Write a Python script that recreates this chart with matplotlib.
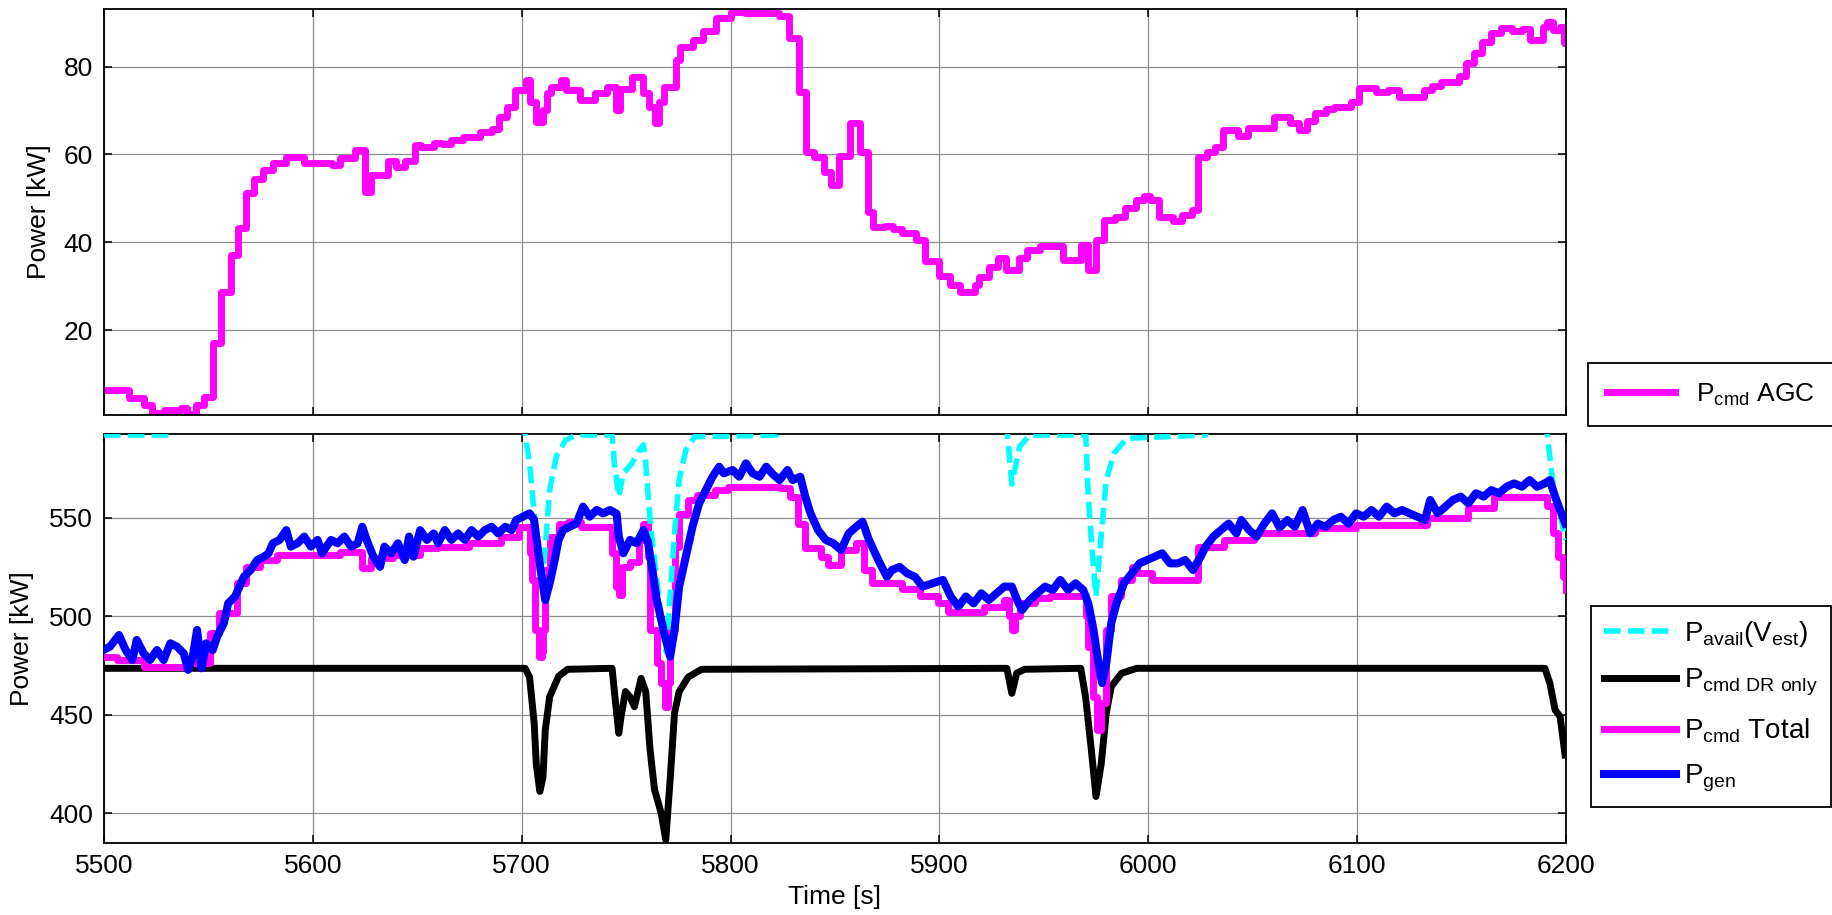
import numpy as np
import matplotlib
matplotlib.use('Agg')
import matplotlib.pyplot as plt

plt.rcParams['font.family'] = ['Liberation Sans', 'DejaVu Sans']
plt.rcParams['mathtext.default'] = 'regular'

# AGC power command (kW), piecewise constant
agc_t = [5500, 5512, 5519, 5523, 5529, 5537, 5540, 5544, 5548, 5552, 5556, 5561, 5564, 5568,
         5572, 5576, 5581, 5587, 5596, 5609, 5613, 5620, 5625, 5628, 5636, 5640, 5644, 5649,
         5652, 5658, 5662, 5666, 5672, 5680, 5686, 5689, 5693, 5697, 5702, 5704, 5707, 5710,
         5712, 5714, 5719, 5721, 5728, 5735, 5741, 5745, 5747, 5753, 5758, 5761, 5764, 5766,
         5768, 5774, 5776, 5782, 5787, 5793, 5800, 5807, 5823, 5828, 5833, 5836, 5840, 5845,
         5848, 5852, 5857, 5862, 5866, 5868, 5874, 5878, 5882, 5889, 5893, 5900, 5905, 5910,
         5917, 5919, 5924, 5928, 5932, 5938, 5942, 5948, 5959, 5968, 5971, 5975, 5979, 5984,
         5989, 5994, 5998, 6001, 6005, 6012, 6016, 6021, 6024, 6028, 6032, 6036, 6043, 6048,
         6060, 6068, 6072, 6076, 6080, 6085, 6089, 6097, 6101, 6109, 6115, 6120, 6132, 6136,
         6140, 6149, 6152, 6156, 6160, 6164, 6169, 6174, 6179, 6183, 6189, 6191, 6194, 6197,
         6199, 6200]
agc_p = [6.4, 4.5, 3.0, 1.1, 1.8, 2.2, 0.8, 3.0, 4.8, 17.0, 28.7, 37.0, 43.3, 51.2,
         54.4, 56.5, 58.0, 59.4, 58.0, 57.6, 59.2, 61.0, 51.5, 55.3, 58.6, 57.2, 58.4, 62.2,
         61.6, 62.5, 62.3, 63.3, 64.0, 65.1, 65.8, 68.5, 70.8, 74.7, 77.0, 72.0, 67.4, 70.0,
         74.0, 75.4, 76.9, 74.7, 72.4, 74.0, 75.4, 70.1, 75.0, 77.7, 74.0, 70.8, 67.1, 72.0,
         75.4, 81.5, 84.5, 86.1, 88.0, 91.0, 92.5, 92.2, 91.6, 86.5, 74.3, 60.6, 59.5, 56.0,
         53.0, 59.7, 67.2, 60.6, 46.9, 43.5, 43.7, 43.0, 42.1, 40.5, 35.7, 32.3, 30.3, 28.6,
         30.3, 32.1, 34.4, 36.4, 33.7, 36.4, 38.3, 39.2, 36.0, 39.3, 33.7, 40.5, 45.0, 45.8,
         47.8, 49.6, 50.6, 49.6, 45.8, 44.9, 46.2, 47.3, 59.4, 60.6, 61.7, 65.6, 64.1, 66.0,
         68.6, 67.1, 65.6, 67.7, 69.4, 70.3, 70.8, 72.0, 75.1, 74.2, 74.7, 73.1, 74.7, 75.6,
         76.6, 77.9, 80.8, 83.0, 85.6, 87.6, 88.9, 88.2, 88.6, 86.1, 89.0, 90.2, 88.3, 89.0,
         85.3, 85.3]

# available power from the estimated wind speed (kW); 600 = above the plotted range
avail_t = [5500, 5532, 5534, 5700, 5701.7, 5703.8, 5706, 5708.1, 5709.6, 5711.3, 5713.4,
           5716.6, 5721, 5726.2, 5743.3, 5744.4, 5746.5, 5748.7, 5752.8, 5756.1, 5758.3,
           5759.4, 5761.5, 5764.7, 5767.9, 5769.2, 5771.3, 5773.3, 5775.4, 5778.6, 5782.8,
           5822, 5823, 5932, 5932.6, 5934.7, 5938.4, 5943.3, 5970.1, 5971.3, 5973, 5975,
           5977, 5979.9, 5983.6, 5989.7, 6027.5, 6028.5, 6189.9, 6191.1, 6193.6, 6197.2,
           6199.7]
avail_p = [592, 592, 600, 600, 592, 577.6, 552, 526.8, 515, 535, 564,
           581, 589.4, 592, 592, 577.6, 560.7, 572.5, 577.6, 584, 587,
           577.6, 548.8, 518.4, 489.6, 482, 513.3, 543.7, 569.1, 584.3, 591.1,
           592, 600, 600, 592, 567, 586, 592, 592, 560.7, 535.3, 510,
           535.3, 569, 582.7, 590.3, 592, 600, 600, 592, 569, 552.2,
           538.7]

# DR-only power command (kW)
dr_t = [5500, 5701.7, 5703.8, 5706, 5707, 5708.7, 5710.2, 5711.3, 5713.4, 5717.7, 5722,
        5743.3, 5744.4, 5746.5, 5747.6, 5749.7, 5751.9, 5754, 5757.2, 5759.4, 5761.5,
        5763.6, 5766.8, 5769, 5771.1, 5773.2, 5775.4, 5779.7, 5786.1, 5932.3, 5934.7,
        5937, 5940.8, 5967.7, 5970, 5972.6, 5975, 5977.5, 5979.9, 5982.3, 5987.2, 5994.5,
        6189.9, 6192.3, 6194.8, 6197.2, 6199.6]
dr_p = [473.5, 473.5, 469, 445.6, 425, 411, 418, 442, 459, 469.5, 473,
        473.5, 461.7, 440.5, 449, 461.7, 459, 454, 468.4, 461.7, 432,
        412, 400, 386.4, 417, 450.7, 461.7, 469, 473, 473.5, 460.8,
        471, 473, 473.5, 459, 433.8, 408.4, 425, 450.7, 464.2, 471, 473.5,
        473.5, 466, 452.4, 449, 429.5]

# total power command (kW), piecewise constant
tot_t = [5499.7, 5506.1, 5519, 5540.3, 5551, 5555.3, 5563.8, 5568.1, 5574.5, 5583, 5613,
         5623.7, 5627.9, 5638.6, 5651.4, 5660, 5675, 5689.9, 5698.5, 5703.8, 5704.9, 5706.6,
         5708.1, 5709.6, 5710.2, 5711.3, 5713.4, 5717.7, 5722, 5728.4, 5743.3, 5745, 5746.5,
         5748, 5751.9, 5756.1, 5758.3, 5760.4, 5761.5, 5764.7, 5766.8, 5768.5, 5770, 5771.1,
         5773.2, 5775.4, 5779.7, 5784, 5792.5, 5799, 5823.6, 5828.5, 5832.1, 5835.8, 5843.1,
         5846.8, 5852.9, 5860.2, 5863.9, 5867.6, 5882.2, 5890.8, 5899.3, 5904.2, 5921.3,
         5931.1, 5933.5, 5934.7, 5936.4, 5938.4, 5945.7, 5953, 5970.1, 5971.3, 5973.8,
         5975.5, 5977.5, 5979.9, 5982.3, 5987.2, 5992.1, 5994.5, 6001.9, 6023.9, 6036.1,
         6050.7, 6080, 6099.5, 6133.7, 6153.3, 6165.5, 6191.1, 6193.6, 6196, 6198.5, 6200]
tot_p = [479.4, 477.7, 474.4, 476, 491.3, 501.4, 516.7, 525, 528.5, 531, 532.7,
         524.3, 529.4, 531, 534.4, 535.3, 537, 540.4, 545.4, 532, 518.4, 493,
         479.4, 482, 493, 523.4, 540.4, 547, 548, 545.4, 532, 515, 510.7,
         525, 527.7, 538.7, 547, 530, 493, 476, 466, 454, 466, 493,
         535, 552, 559, 561.5, 564, 565.7, 564.9, 560.7, 547, 534.4, 530.2,
         526, 533.6, 537, 523.4, 516.7, 514, 510, 506.5, 502.3, 504.8,
         508.2, 500, 493, 500, 506.5, 509, 510, 500, 484.5, 459,
         442.2, 456, 493, 510, 518.4, 525, 521.7, 518.4, 535.3, 538.7,
         542, 544.6, 546.3, 549.7, 554.7, 560.7, 556, 542, 530, 520, 513.3]

# generated power (kW)
gen_t = [5499.7, 5502.9, 5507.2, 5510.4, 5513.6, 5515.7, 5519, 5522.1, 5525.4, 5528.6, 5531.8,
         5535, 5538.2, 5540.3, 5542.5, 5544.6, 5546.7, 5548.9, 5552.1, 5554.2, 5557.4, 5559.5,
         5562.8, 5564.9, 5567, 5570.2, 5573.4, 5576.6, 5578.8, 5580.9, 5584.1, 5587.3, 5589.5,
         5592.7, 5595.9, 5599.1, 5602.3, 5604.4, 5608.7, 5611.9, 5615.1, 5618.3, 5621.5,
         5623.7, 5625.8, 5629, 5632.2, 5634.3, 5637.5, 5640.8, 5644, 5646.1, 5648.2, 5651.4,
         5654.6, 5657.9, 5660, 5663.2, 5666.4, 5669.6, 5672.8, 5676, 5679.2, 5682.4, 5685.6,
         5688.8, 5692.1, 5695.2, 5697.4, 5700.6, 5703.8, 5705.9, 5707, 5709.1, 5711.3, 5713.4,
         5715.5, 5717.7, 5719.8, 5723, 5726.2, 5729.4, 5732.6, 5735.9, 5739, 5742.3, 5745.5,
         5746.5, 5748.7, 5751.9, 5755.1, 5758.3, 5760.4, 5762.6, 5764.7, 5767.9, 5771.1,
         5773.2, 5775.4, 5778.6, 5781.8, 5785, 5788.2, 5791.4, 5794.6, 5796.8, 5801, 5804.2,
         5807.4, 5810.6, 5813.9, 5817.1, 5820.3, 5823.5, 5827.3, 5829.7, 5833.4, 5835.8,
         5838.3, 5841.9, 5845.6, 5849.2, 5852.9, 5856.6, 5860.2, 5863.2, 5866.3, 5870, 5872.4,
         5874.9, 5877.3, 5881, 5884.6, 5888.3, 5892, 5896.9, 5901.7, 5905.4, 5909.1, 5912.7,
         5916.4, 5920.1, 5923.7, 5927.4, 5931.1, 5934.7, 5937.2, 5939.6, 5943.3, 5946.9,
         5950.6, 5954.3, 5957.9, 5961.6, 5965.2, 5968.9, 5971.3, 5973.8, 5976.2, 5977.9,
         5979.9, 5982.3, 5984.8, 5988.4, 5992.1, 5995.8, 5999.4, 6003.1, 6006.7, 6010.4,
         6014.1, 6017.7, 6021.4, 6025.1, 6027.5, 6031.2, 6034.8, 6038.5, 6042.2, 6044.6,
         6048.3, 6051.9, 6055.6, 6059.3, 6062.9, 6066.6, 6070.2, 6073.9, 6077.6, 6081.2,
         6084.9, 6088.6, 6092.2, 6095.9, 6099.5, 6103.2, 6106.9, 6110.5, 6114.2, 6117.9,
         6121.5, 6125.2, 6128.9, 6132.5, 6135, 6138.6, 6142.3, 6145.9, 6149.6, 6153.3,
         6156.9, 6160.6, 6164.3, 6167.9, 6171.6, 6175.2, 6178.9, 6182.6, 6186.2, 6189.9,
         6192.3, 6194.8, 6197.2, 6199.7]
gen_p = [482.8, 484.5, 490.4, 482.8, 477.7, 487.9, 481.1, 477.7, 482.8, 477.7, 486.2,
         484.5, 481.1, 472.7, 479.4, 493, 473.5, 486.2, 482.8, 489.6, 496.4, 506.5,
         510, 515, 520, 523.4, 528.5, 530.2, 531.9, 537, 538.7, 543.7, 535.3,
         537, 540.4, 535.3, 538.7, 531.9, 538.7, 537, 540.4, 535.3, 537,
         545.4, 538.7, 530.2, 525, 535.3, 531.9, 537, 528.5, 540.4, 530.2, 543.7,
         538.7, 542, 537, 543.7, 538.7, 542, 538.7, 543.7, 540.4, 543.7, 545.4,
         542, 545.4, 543.7, 548.8, 550.5, 552.2, 549, 540.4, 523.4, 508.2, 516.7,
         526.8, 538.7, 543.7, 545.4, 547, 555.6, 550.5, 553.9, 552.2, 553.9, 552,
         540.4, 531.9, 538.7, 537, 543.7, 538, 523.4, 508.2, 493, 479.4,
         493, 515, 530.2, 545.4, 557.3, 564, 570.8, 575.9, 572.5, 574.2, 570.8,
         577.6, 572.5, 570.8, 575.9, 572, 569.1, 574.2, 569.1, 570.8, 560.7,
         552.2, 543.7, 538.7, 537, 533.6, 542, 545.4, 548, 538.7, 530.2, 525,
         520, 523.4, 525, 521.7, 520, 515, 516.7, 518.4, 510, 504.8, 510,
         506.5, 511.6, 508.2, 511.6, 515, 515, 508.2, 503.1, 508.2, 511.6,
         515, 513.3, 518.4, 513.3, 516.7, 513.3, 506.5, 493, 476, 466,
         476, 496.4, 506.5, 516.7, 521.7, 526.8, 528.5, 530.2, 531.9, 526.8,
         526.8, 528.5, 523.4, 530.2, 535.3, 540.4, 543.7, 547, 542, 548.8,
         543.7, 540.4, 547, 552.2, 545, 548.8, 545.4, 553.9, 542, 547,
         545.4, 548.8, 550.5, 547, 552.2, 550.5, 553.9, 550.5, 555.6, 552.2,
         553.9, 552.2, 550.5, 548.8, 559, 552.2, 555.6, 559, 560.7, 557.3,
         562.4, 560.7, 564, 562.4, 565.7, 567.4, 565.7, 569.1, 565.7, 567.4,
         569.1, 560.7, 553.9, 547]

fig = plt.figure(figsize=(18.33, 9.15), dpi=100)
ax1 = fig.add_axes([0.0567, 0.5464, 0.7976, 0.4437])
ax2 = fig.add_axes([0.0567, 0.0787, 0.7976, 0.4470])

magenta = '#ff00ff'

ax1.plot(agc_t, agc_p, color=magenta, lw=5, drawstyle='steps-post',
         label='P$_{cmd}$ AGC')

l_dr, = ax2.plot(dr_t, dr_p, color='black', lw=5, zorder=2,
                 label='P$_{cmd\\ DR\\ only}$')
l_tot, = ax2.plot(tot_t, tot_p, color=magenta, lw=5, drawstyle='steps-post', zorder=3,
                  label='P$_{cmd}$ Total')
l_av, = ax2.plot(avail_t, avail_p, color='#00ffff', lw=4, dashes=(3, 1.3), zorder=4,
                 label='P$_{avail}$(V$_{est}$)')
l_gen, = ax2.plot(gen_t, gen_p, color='#0000ff', lw=5.8, zorder=5, label='P$_{gen}$')

ax1.set_xlim(5500, 6200)
ax1.set_ylim(0.65, 93.1)
ax1.set_yticks([20, 40, 60, 80])
ax1.set_xticks(np.arange(5500, 6201, 100))
ax1.set_xticklabels([])

ax2.set_xlim(5500, 6200)
ax2.set_ylim(384.8, 592.5)
ax2.set_yticks([400, 450, 500, 550])
ax2.set_xticks(np.arange(5500, 6201, 100))
ax2.set_xlabel('Time [s]', fontsize=19, labelpad=5)

for ax in (ax1, ax2):
    ax.grid(True, color='0.55', lw=0.9)
    ax.set_axisbelow(True)
    ax.tick_params(direction='in', length=6, width=1.1, labelsize=19,
                   top=True, right=True, pad=8)
    for s in ax.spines.values():
        s.set_linewidth(1.3)
    ax.set_ylabel('Power [kW]', fontsize=19)

ax1.yaxis.set_label_coords(-0.036, 0.5)
ax2.yaxis.set_label_coords(-0.048, 0.5)

leg1 = ax1.legend(loc='center', bbox_to_anchor=(0.9334, 0.5689), bbox_transform=fig.transFigure,
                  fancybox=False, edgecolor='black', framealpha=1, fontsize=19,
                  handlelength=2.6, handletextpad=0.8, borderpad=0.7)
leg1.get_frame().set_linewidth(1.3)

leg2 = ax2.legend([l_av, l_dr, l_tot, l_gen],
                  [l_av.get_label(), l_dr.get_label(), l_tot.get_label(), l_gen.get_label()],
                  loc='center', bbox_to_anchor=(0.9334, 0.2279), bbox_transform=fig.transFigure,
                  fancybox=False, edgecolor='black', framealpha=1, fontsize=20,
                  handlelength=2.6, handletextpad=0.3, borderpad=0.45, labelspacing=0.65)
leg2.get_frame().set_linewidth(1.3)

fig.savefig('out.png', dpi=100)
